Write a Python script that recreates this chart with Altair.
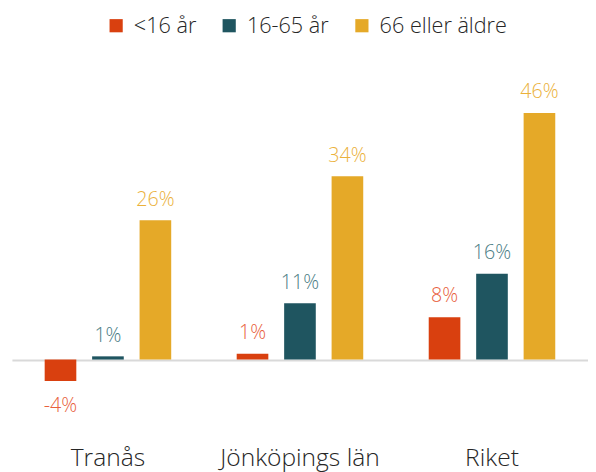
import altair as alt
import pandas as pd

regions = ["Tranås", "Jönköpings län", "Riket"]
groups = ["<16 år", "16-65 år", "66 eller äldre"]
values_u16 = [-4.0, 1.1, 7.9]
values_16_65 = [0.6, 10.5, 16.0]
values_66 = [26.0, 34.2, 46.0]
labels_u16 = ["-4%", "1%", "8%"]
labels_16_65 = ["1%", "11%", "16%"]
labels_66 = ["26%", "34%", "46%"]
bar_colors = ["#D9400F", "#1F5560", "#E5A928"]
label_colors = ["#E8603C", "#4A7C84", "#EBB13A"]

rows = []
for g, vals, labs in [(groups[0], values_u16, labels_u16),
                      (groups[1], values_16_65, labels_16_65),
                      (groups[2], values_66, labels_66)]:
    for r, v, l in zip(regions, vals, labs):
        rows.append({"region": r, "group": g, "value": v, "label": l})
df = pd.DataFrame(rows)

FONT = "Open Sans"

x = alt.X("region:N", sort=regions, title=None,
          scale=alt.Scale(paddingInner=0, paddingOuter=0),
          axis=alt.Axis(domain=False, ticks=False, labelAngle=0, labelFontSize=25,
                        labelFont=FONT, labelFontWeight=300, labelColor="#262626",
                        labelPadding=22))
xo = alt.XOffset("group:N", sort=groups,
                 scale=alt.Scale(paddingInner=1/3, paddingOuter=0.69))
y = alt.Y("value:Q", title=None,
          scale=alt.Scale(domain=[-12, 48], nice=False, zero=True),
          axis=alt.Axis(values=[0], grid=True, gridColor="#D9D9D9", gridWidth=2,
                        domain=False, ticks=False, labels=False))
color = alt.Color("group:N", sort=groups,
                  scale=alt.Scale(domain=groups, range=bar_colors),
                  legend=alt.Legend(orient="none", legendX=95, legendY=-89, direction="horizontal",
                                    title=None, symbolType="square", symbolSize=180,
                                    symbolStrokeWidth=0, labelFontSize=22, labelFont=FONT,
                                    labelFontWeight=300, labelColor="#262626",
                                    columnPadding=22, labelOffset=7))

bars = alt.Chart(df).mark_bar().encode(x=x, xOffset=xo, y=y, color=color)

tfill = alt.Fill("group:N", sort=groups,
                 scale=alt.Scale(domain=groups, range=label_colors), legend=None)

pos_text = alt.Chart(df).transform_filter("datum.value >= 0").mark_text(
    baseline="bottom", dy=-11, fontSize=20, font=FONT, fontWeight=300).encode(
    x=x, xOffset=xo, y=y, text="label:N", fill=tfill)
neg_text = alt.Chart(df).transform_filter("datum.value < 0").mark_text(
    baseline="top", dy=16, fontSize=20, font=FONT, fontWeight=300).encode(
    x=x, xOffset=xo, y=y, text="label:N", fill=tfill)

chart = alt.layer(bars, pos_text, neg_text).properties(
    width=586, height=327, padding={"left": 4, "top": 3, "right": 0, "bottom": 0}
).configure_view(stroke=None)

chart.save("out.html", embed_options={"renderer": "svg", "actions": False})
